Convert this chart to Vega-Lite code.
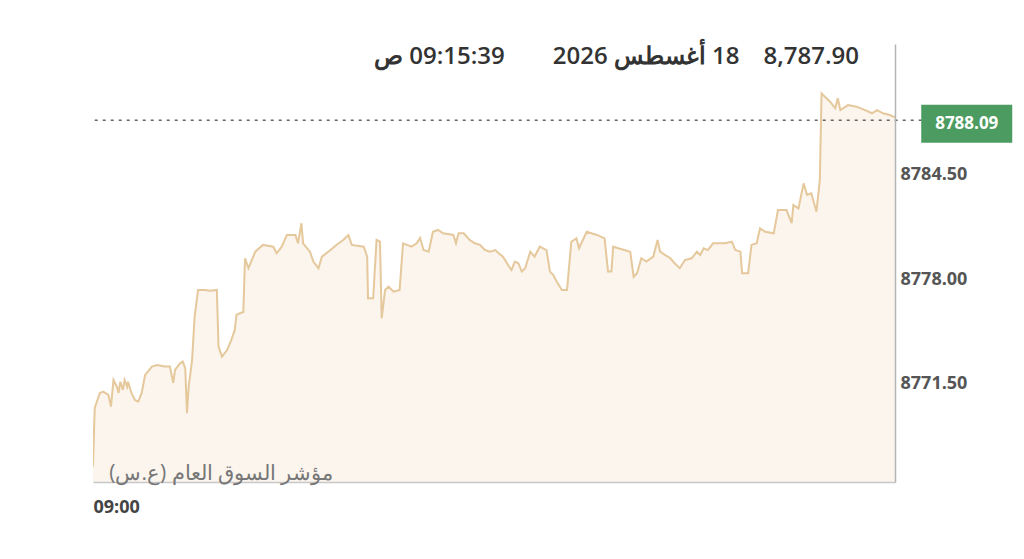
{
  "$schema": "https://vega.github.io/schema/vega-lite/v6.json",
  "width": 802,
  "height": 438,
  "autosize": {"type": "none"},
  "padding": {"left": 93, "top": 44, "right": 129, "bottom": 77},
  "background": "white",
  "config": {"view": {"stroke": null}, "font": "Open Sans"},
  "title": {
    "text": "\u202b8,787.90\u200318 أغسطس 2026\u2003\u200309:15:39 ص\u202c",
    "orient": "top",
    "anchor": "end",
    "frame": "group",
    "dx": -36,
    "offset": -44,
    "baseline": "alphabetic",
    "font": "Open Sans",
    "fontSize": 24,
    "fontWeight": 600,
    "color": "#333333"
  },
  "datasets": {
    "series": [
      {"t":0,"v":8766.36},{"t":2,"v":8770.01},{"t":8,"v":8770.94},{"t":12,"v":8771.02},{"t":18,"v":8770.82},
      {"t":21,"v":8770.09},{"t":24,"v":8771.75},{"t":28,"v":8771.33},{"t":30,"v":8770.94},{"t":32,"v":8771.64},
      {"t":35,"v":8771.13},{"t":37,"v":8771.75},{"t":40,"v":8771.33},{"t":41,"v":8771.64},{"t":45,"v":8770.94},
      {"t":49,"v":8770.50},{"t":53,"v":8770.40},{"t":57,"v":8770.94},{"t":61,"v":8772.06},{"t":69,"v":8772.58},
      {"t":75,"v":8772.68},{"t":84,"v":8772.58},{"t":90,"v":8772.58},{"t":94,"v":8771.56},{"t":96,"v":8772.37},
      {"t":102,"v":8772.79},{"t":105,"v":8772.89},{"t":108,"v":8772.48},{"t":110,"v":8769.68},{"t":112,"v":8771.33},
      {"t":116,"v":8772.99},{"t":119,"v":8775.69},{"t":123,"v":8777.35},{"t":131,"v":8777.35},{"t":137,"v":8777.30},
      {"t":145,"v":8777.35},{"t":147,"v":8773.82},{"t":151,"v":8773.20},{"t":157,"v":8773.61},{"t":162,"v":8774.24},
      {"t":166,"v":8774.86},{"t":168,"v":8775.79},{"t":172,"v":8775.90},{"t":176,"v":8775.98},{"t":178,"v":8779.32},
      {"t":182,"v":8778.70},{"t":190,"v":8779.73},{"t":199,"v":8780.15},{"t":211,"v":8780.04},{"t":215,"v":8779.63},
      {"t":221,"v":8780.04},{"t":227,"v":8780.77},{"t":237,"v":8780.77},{"t":240,"v":8780.25},{"t":244,"v":8781.50},
      {"t":246,"v":8780.25},{"t":254,"v":8779.73},{"t":258,"v":8779.11},{"t":264,"v":8778.70},{"t":268,"v":8779.42},
      {"t":278,"v":8779.83},{"t":285,"v":8780.15},{"t":293,"v":8780.46},{"t":299,"v":8780.77},{"t":303,"v":8780.15},
      {"t":317,"v":8780.04},{"t":321,"v":8779.42},{"t":322,"v":8776.83},{"t":328,"v":8776.83},{"t":332,"v":8780.46},
      {"t":336,"v":8780.35},{"t":338,"v":8775.59},{"t":342,"v":8777.35},{"t":346,"v":8777.55},{"t":352,"v":8777.24},
      {"t":359,"v":8777.35},{"t":363,"v":8780.25},{"t":373,"v":8780.04},{"t":379,"v":8780.25},{"t":383,"v":8780.58},
      {"t":387,"v":8779.83},{"t":393,"v":8779.73},{"t":398,"v":8780.97},{"t":404,"v":8781.08},{"t":410,"v":8780.87},
      {"t":422,"v":8780.77},{"t":425,"v":8780.25},{"t":428,"v":8780.87},{"t":434,"v":8780.87},{"t":441,"v":8780.46},
      {"t":447,"v":8780.25},{"t":453,"v":8780.15},{"t":459,"v":8779.83},{"t":465,"v":8779.73},{"t":471,"v":8779.83},
      {"t":475,"v":8779.63},{"t":480,"v":8779.42},{"t":486,"v":8778.90},{"t":490,"v":8778.59},{"t":494,"v":8779.11},
      {"t":498,"v":8779.01},{"t":502,"v":8778.49},{"t":506,"v":8778.70},{"t":512,"v":8779.73},{"t":517,"v":8779.42},
      {"t":523,"v":8780.04},{"t":531,"v":8779.83},{"t":535,"v":8778.49},{"t":539,"v":8778.28},{"t":543,"v":8777.86},
      {"t":549,"v":8777.35},{"t":555,"v":8777.35},{"t":560,"v":8780.35},{"t":566,"v":8780.56},{"t":569,"v":8779.94},
      {"t":578,"v":8780.97},{"t":590,"v":8780.77},{"t":599,"v":8780.56},{"t":603,"v":8778.49},{"t":607,"v":8778.49},
      {"t":609,"v":8780.04},{"t":615,"v":8779.94},{"t":629,"v":8779.73},{"t":633,"v":8778.17},{"t":637,"v":8778.39},
      {"t":642,"v":8779.32},{"t":648,"v":8779.11},{"t":656,"v":8779.42},{"t":661,"v":8780.46},{"t":664,"v":8779.73},
      {"t":670,"v":8779.52},{"t":676,"v":8779.32},{"t":681,"v":8779.01},{"t":687,"v":8778.70},{"t":693,"v":8779.21},
      {"t":701,"v":8779.32},{"t":707,"v":8779.73},{"t":711,"v":8779.52},{"t":715,"v":8779.94},{"t":720,"v":8779.83},
      {"t":726,"v":8780.25},{"t":740,"v":8780.25},{"t":748,"v":8780.35},{"t":752,"v":8779.83},{"t":758,"v":8779.73},
      {"t":760,"v":8778.39},{"t":767,"v":8778.39},{"t":771,"v":8780.15},{"t":777,"v":8780.25},{"t":781,"v":8781.18},
      {"t":787,"v":8780.97},{"t":797,"v":8780.87},{"t":802,"v":8782.32},{"t":812,"v":8782.32},{"t":818,"v":8781.50},
      {"t":820,"v":8782.63},{"t":826,"v":8782.43},{"t":832,"v":8783.98},{"t":836,"v":8783.26},{"t":841,"v":8783.36},
      {"t":847,"v":8782.22},{"t":851,"v":8784.19},{"t":853,"v":8789.58},{"t":857,"v":8789.37},{"t":863,"v":8789.06},
      {"t":869,"v":8788.65},{"t":872,"v":8789.27},{"t":875,"v":8788.54},{"t":884,"v":8788.85},{"t":894,"v":8788.75},
      {"t":904,"v":8788.54},{"t":912,"v":8788.34},{"t":918,"v":8788.54},{"t":925,"v":8788.34},{"t":933,"v":8788.23},
      {"t":939,"v":8788.09}
    ],
    "last": [{"label": "8788.09", "v": 8788.09, "current": 8787.90}]
  },
  "layer": [
    {
      "data": {"name": "series"},
      "mark": {"type": "area", "color": "#fbf5ee", "opacity": 1, "clip": true,
               "line": {"color": "#e5c89b", "strokeWidth": 2}},
      "encoding": {
        "x": {"field": "t", "type": "quantitative",
              "scale": {"domain": [0, 939], "nice": false, "zero": false},
              "axis": {
                "zindex": 1,
                "values": [0], "labelExpr": "'09:00'", "labelAlign": "left",
                "labelBaseline": "middle",
                "ticks": false, "grid": false,
                "domain": true, "domainColor": "#c8c8c8", "domainWidth": 1.5,
                "labelPadding": 25, "labelFont": "Open Sans", "labelFontSize": 18,
                "labelFontWeight": "bold", "labelColor": "#444444",
                "title": "\u202bمؤشر السوق العام (ع.س)\u202c",
                "titleX": 240, "titleY": -9, "titleAlign": "right",
                "titleBaseline": "middle", "titleAnchor": null,
                "titleFont": "Open Sans", "titleFontSize": 21,
                "titleFontWeight": "normal", "titleColor": "#777777"
              }},
        "y": {"field": "v", "type": "quantitative",
              "scale": {"domain": [8765.40, 8792.65], "nice": false, "zero": false},
              "axis": {
                "zindex": 1,
                "orient": "right", "values": [8771.5, 8778, 8784.5], "format": ".2f",
                "ticks": false, "grid": false,
                "domain": true, "domainColor": "#b4b4b4", "domainWidth": 1.5,
                "labelPadding": 5, "labelFont": "Open Sans", "labelFontSize": 18,
                "labelFontWeight": "bold", "labelColor": "#555555", "title": null
              }},
        "y2": {"datum": 8765.40}
      }
    },
    {
      "data": {"name": "last"},
      "mark": {"type": "rule", "color": "#666666", "strokeWidth": 1.5, "strokeDash": [3, 5], "clip": false},
      "encoding": {
        "x": {"datum": 2, "type": "quantitative"},
        "x2": {"datum": 971},
        "y": {"field": "current", "type": "quantitative"}
      }
    },
    {
      "data": {"name": "last"},
      "mark": {"type": "point", "filled": true, "color": "#4c9b60", "opacity": 1, "size": 8281,
               "shape": "M-1,-0.418L1,-0.418L1,0.418L-1,0.418Z", "yOffset": 6.5, "clip": false},
      "encoding": {
        "x": {"datum": 1023, "type": "quantitative"},
        "y": {"field": "v", "type": "quantitative"}
      }
    },
    {
      "data": {"name": "last"},
      "mark": {"type": "text", "color": "white", "font": "Open Sans", "fontSize": 17, "fontWeight": "bold",
               "align": "center", "baseline": "middle", "yOffset": 6.5, "clip": false},
      "encoding": {
        "x": {"datum": 1023, "type": "quantitative"},
        "y": {"field": "v", "type": "quantitative"},
        "text": {"field": "label"}
      }
    }
  ]
}
